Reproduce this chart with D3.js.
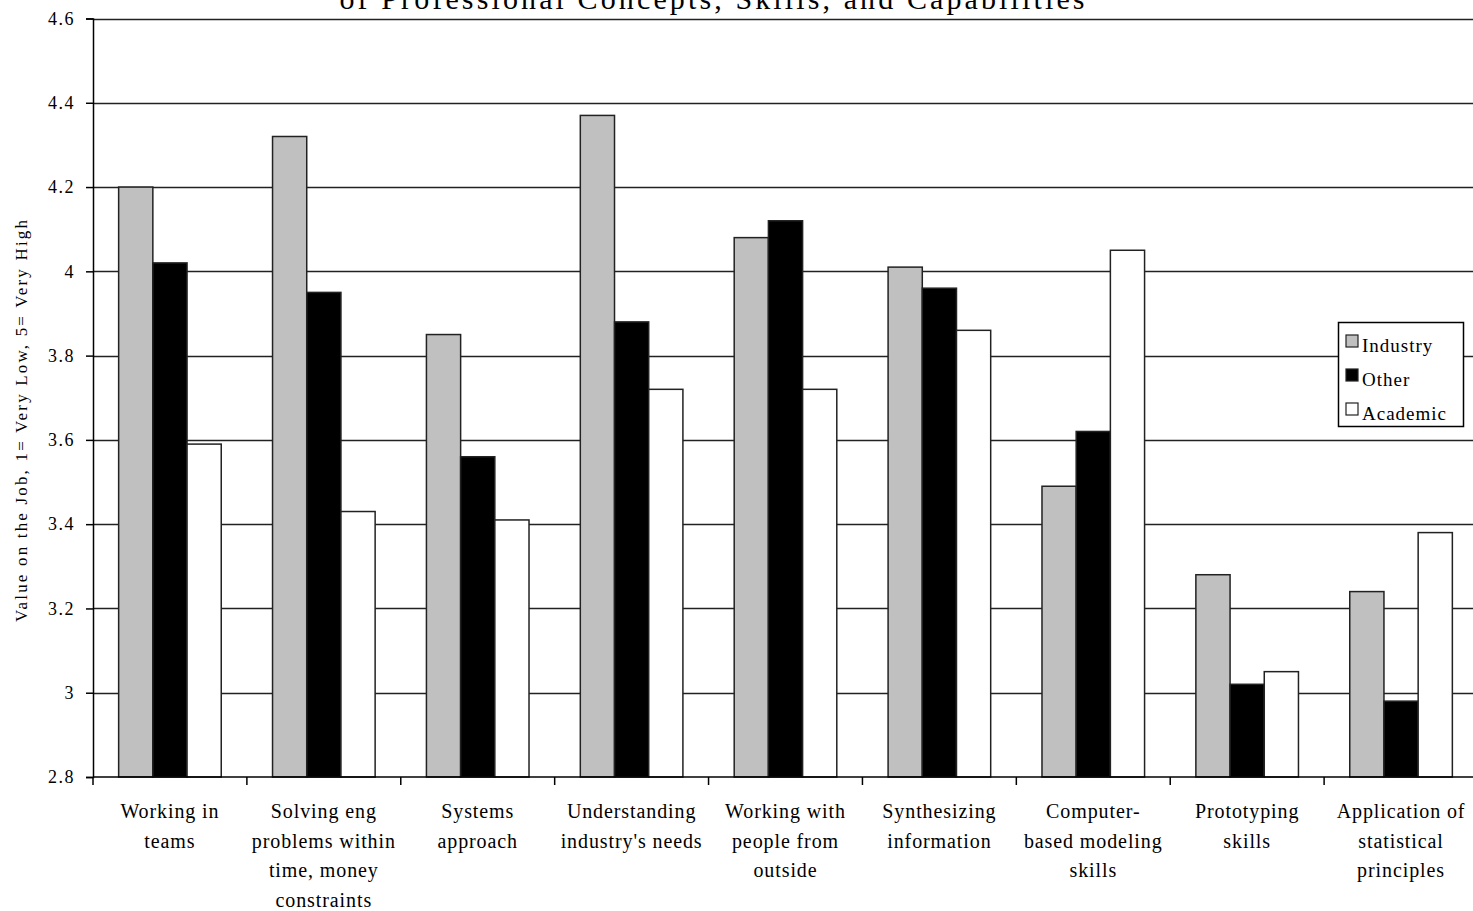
<!DOCTYPE html>
<html>
<head>
<meta charset="utf-8">
<script src="https://cdn.jsdelivr.net/npm/d3@7/dist/d3.min.js"></script>
<style>
  html, body { margin: 0; padding: 0; background: #fff; overflow: hidden; }
  svg { display: block; }
  text { font-family: "Liberation Serif", "Times New Roman", serif; fill: #000; }
</style>
</head>
<body>
<svg id="chart" width="1473" height="911"></svg>
<script>
// Skill categories (each entry is the wrapped label lines)
const categories = [
  ["Working in", "teams"],
  ["Solving eng", "problems within", "time, money", "constraints"],
  ["Systems", "approach"],
  ["Understanding", "industry's needs"],
  ["Working with", "people from", "outside"],
  ["Synthesizing", "information"],
  ["Computer-", "based modeling", "skills"],
  ["Prototyping", "skills"],
  ["Application of", "statistical", "principles"]
];

// Mean rating per respondent group
const seriesNames = ["Industry", "Other", "Academic"];
const industry = [4.20, 4.32, 3.85, 4.37, 4.08, 4.01, 3.49, 3.28, 3.24];
const other    = [4.02, 3.95, 3.56, 3.88, 4.12, 3.96, 3.62, 3.02, 2.98];
const academic = [3.59, 3.43, 3.41, 3.72, 3.72, 3.86, 4.05, 3.05, 3.38];

const yTicks = [2.8, 3.0, 3.2, 3.4, 3.6, 3.8, 4.0, 4.2, 4.4, 4.6];
const yTickLabels = ["2.8", "3", "3.2", "3.4", "3.6", "3.8", "4", "4.2", "4.4", "4.6"];

const titleText = "of Professional Concepts, Skills, and Capabilities";
const yTitle = "Value on the Job, 1= Very Low, 5= Very High";

const fills = { Industry: "#c0c0c0", Other: "#000000", Academic: "#ffffff" };
const seriesValues = { Industry: industry, Other: other, Academic: academic };

const svg = d3.select("#chart");

const plot = { left: 93, right: 1478, top: 18.5, bottom: 777 };

const catKeys = categories.map((c, i) => i);
const x0 = d3.scaleBand().domain(catKeys).range([plot.left, plot.right]).paddingInner(0).paddingOuter(0);
const x1 = d3.scaleBand().domain(seriesNames).range([0, x0.bandwidth()]).paddingInner(0).paddingOuter(0.75);
const y = d3.scaleLinear().domain([2.8, 4.6]).range([plot.bottom, plot.top]);

// Horizontal gridlines
svg.append("g")
  .selectAll("line")
  .data(yTicks.slice(1))
  .join("line")
  .attr("x1", plot.left).attr("x2", plot.right)
  .attr("y1", d => Math.round(y(d)) + 0.5).attr("y2", d => Math.round(y(d)) + 0.5)
  .attr("stroke", "#222").attr("stroke-width", 1.5);

// Bars
const groups = svg.append("g")
  .selectAll("g")
  .data(catKeys)
  .join("g")
  .attr("transform", d => `translate(${x0(d)},0)`);

groups.selectAll("rect")
  .data(i => seriesNames.map(s => ({ s, v: seriesValues[s][i] })))
  .join("rect")
  .attr("x", d => x1(d.s))
  .attr("width", x1.bandwidth())
  .attr("y", d => y(Math.max(d.v, 2.8)))
  .attr("height", d => plot.bottom - y(Math.max(d.v, 2.8)))
  .attr("fill", d => fills[d.s])
  .attr("stroke", "#222")
  .attr("stroke-width", 1.5);

// Y axis
const yAxis = d3.axisLeft(y)
  .tickValues(yTicks)
  .tickFormat((d, i) => yTickLabels[i])
  .tickSize(7)
  .tickPadding(11);
const yg = svg.append("g")
  .attr("transform", `translate(${plot.left},0)`)
  .call(yAxis);
yg.select(".domain").attr("stroke", "#000").attr("stroke-width", 1.5);
yg.selectAll(".tick line").attr("stroke", "#000").attr("stroke-width", 1.5);
yg.selectAll(".tick text")
  .attr("font-family", "'Liberation Serif', serif")
  .attr("font-size", 18)
  .attr("letter-spacing", 1.5)
  .attr("fill", "#000");

// X axis with ticks at category boundaries
const xg = svg.append("g");
xg.append("line")
  .attr("x1", plot.left).attr("x2", plot.right)
  .attr("y1", plot.bottom).attr("y2", plot.bottom)
  .attr("stroke", "#000").attr("stroke-width", 1.5);
xg.selectAll("line.tick")
  .data(catKeys.concat([categories.length]))
  .join("line")
  .attr("class", "tick")
  .attr("x1", d => d < categories.length ? x0(d) : plot.right)
  .attr("x2", d => d < categories.length ? x0(d) : plot.right)
  .attr("y1", plot.bottom).attr("y2", plot.bottom + 8)
  .attr("stroke", "#000").attr("stroke-width", 1.5);

const labels = svg.append("g")
  .selectAll("text")
  .data(catKeys)
  .join("text")
  .attr("text-anchor", "middle")
  .attr("font-size", 20)
  .attr("letter-spacing", 0.9);
labels.each(function (i) {
  const t = d3.select(this);
  categories[i].forEach((line, k) => {
    t.append("tspan")
      .attr("x", x0(i) + x0.bandwidth() / 2)
      .attr("y", 818 + k * 29.5)
      .text(line);
  });
});

// Y axis title
svg.append("text")
  .attr("transform", "translate(27,421) rotate(-90)")
  .attr("text-anchor", "middle")
  .attr("font-size", 17)
  .attr("textLength", 402)
  .attr("lengthAdjust", "spacing")
  .text(yTitle);

// Chart title (second line)
svg.append("text")
  .attr("x", 712)
  .attr("y", 9)
  .attr("text-anchor", "middle")
  .attr("font-size", 30)
  .attr("textLength", 745)
  .attr("lengthAdjust", "spacing")
  .text(titleText);

// Legend
const legend = svg.append("g").attr("transform", "translate(1338,322)");
legend.append("rect")
  .attr("x", 0.5).attr("y", 0.5)
  .attr("width", 125).attr("height", 104)
  .attr("fill", "#fff").attr("stroke", "#000").attr("stroke-width", 1.5);
const items = legend.selectAll("g.item")
  .data(seriesNames)
  .join("g")
  .attr("class", "item")
  .attr("transform", (d, i) => `translate(0,${i * 34})`);
items.append("rect")
  .attr("x", 8).attr("y", 13)
  .attr("width", 12).attr("height", 12)
  .attr("fill", d => fills[d])
  .attr("stroke", "#222").attr("stroke-width", 1.2);
items.append("text")
  .attr("x", 24).attr("y", 30)
  .attr("font-size", 19)
  .attr("letter-spacing", 1)
  .text(d => d);
</script>
</body>
</html>
